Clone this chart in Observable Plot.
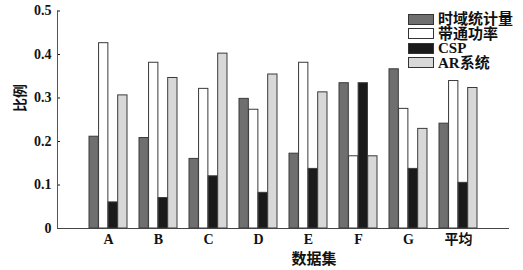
<!DOCTYPE html>
<html>
<head>
<meta charset="utf-8">
<script src="https://cdn.jsdelivr.net/npm/d3@7"></script>
<script src="https://cdn.jsdelivr.net/npm/@observablehq/plot@0.6"></script>
<style>
  html, body { margin: 0; padding: 0; background: #fff; }
  #wrap { position: relative; width: 523px; height: 270px; font-family: "Liberation Serif", "Noto Sans CJK SC", serif; font-weight: bold; color: #111; }
  #legend { position: absolute; left: 408px; top: 12px; font-size: 15px; line-height: 14.5px; }
  .row { display: flex; align-items: center; height: 14.5px; }
  .sw { width: 24px; height: 9px; border: 1px solid #333; margin-right: 4px; box-sizing: content-box; }
  #ylab { position: absolute; left: 11px; top: 104px; font-size: 14px; transform: translate(0,-50%) rotate(-90deg); transform-origin: center; width: 16px; text-align: center; white-space: nowrap; }
  #xlab { position: absolute; left: 314px; top: 257px; font-size: 15px; transform: translate(-50%,-50%); white-space: nowrap; }
</style>
</head>
<body>
<div id="wrap"></div>
<script>
const categories = ["A", "B", "C", "D", "E", "F", "G", "平均"];
const seriesNames = ["时域统计量", "带通功率", "CSP", "AR系统"];
const seriesColors = ["#6f6f6f", "#ffffff", "#1a1a1a", "#d8d8d8"];
const timeDomain = [0.211, 0.208, 0.160, 0.298, 0.172, 0.334, 0.366, 0.241];
const bandPower  = [0.426, 0.381, 0.321, 0.273, 0.381, 0.166, 0.275, 0.339];
const csp        = [0.060, 0.070, 0.120, 0.082, 0.137, 0.334, 0.137, 0.105];
const arSystem   = [0.306, 0.346, 0.402, 0.354, 0.313, 0.166, 0.229, 0.323];
const yTicks = [0, 0.1, 0.2, 0.3, 0.4, 0.5];

const allSeries = [timeDomain, bandPower, csp, arSystem];

const W = 523, H = 270, mL = 57, mR = 15;
const padInner = 0.24, padOuter = 0.6;
// bandwidth of the category band, split evenly among the series
const bw = d3.scaleBand(categories, [mL, W - mR]).paddingInner(padInner).paddingOuter(padOuter).bandwidth();
const sub = bw / seriesNames.length;

const barMarks = seriesNames.map((s, k) =>
  Plot.barY(categories.map((c, i) => ({cat: c, series: s, value: allSeries[k][i]})), {
    x: "cat", y: "value", fill: "series", stroke: "#3a3a3a", strokeWidth: 1,
    insetLeft: k * sub, insetRight: (seriesNames.length - 1 - k) * sub
  })
);

const plot = Plot.plot({
  width: W,
  height: H,
  marginLeft: mL,
  marginRight: mR,
  marginTop: 10.5,
  marginBottom: 42,
  style: {fontFamily: '"Liberation Serif", "Noto Sans CJK SC", serif', fontSize: "14px", fontWeight: "bold", color: "#111", background: "#fff"},
  x: {domain: categories, paddingInner: padInner, paddingOuter: padOuter, label: null, tickSize: 0, tickPadding: 6},
  y: {domain: [0, 0.5], ticks: yTicks, tickFormat: d => d === 0 ? "0" : d3.format(".1f")(d), tickSize: -3, tickPadding: 9, label: null},
  color: {domain: seriesNames, range: seriesColors},
  marks: [
    ...barMarks,
    Plot.frame({anchor: "left", stroke: "#555"}),
    Plot.frame({anchor: "bottom", stroke: "#444"})
  ]
});

const wrap = document.getElementById("wrap");
wrap.appendChild(plot);

const legend = document.createElement("div");
legend.id = "legend";
seriesNames.forEach((s, k) => {
  const row = document.createElement("div");
  row.className = "row";
  const sw = document.createElement("div");
  sw.className = "sw";
  sw.style.background = seriesColors[k];
  const t = document.createElement("span");
  t.textContent = s;
  row.appendChild(sw); row.appendChild(t);
  legend.appendChild(row);
});
wrap.appendChild(legend);

const ylab = document.createElement("div");
ylab.id = "ylab"; ylab.textContent = "比例";
wrap.appendChild(ylab);
const xlab = document.createElement("div");
xlab.id = "xlab"; xlab.textContent = "数据集";
wrap.appendChild(xlab);
</script>
</body>
</html>
